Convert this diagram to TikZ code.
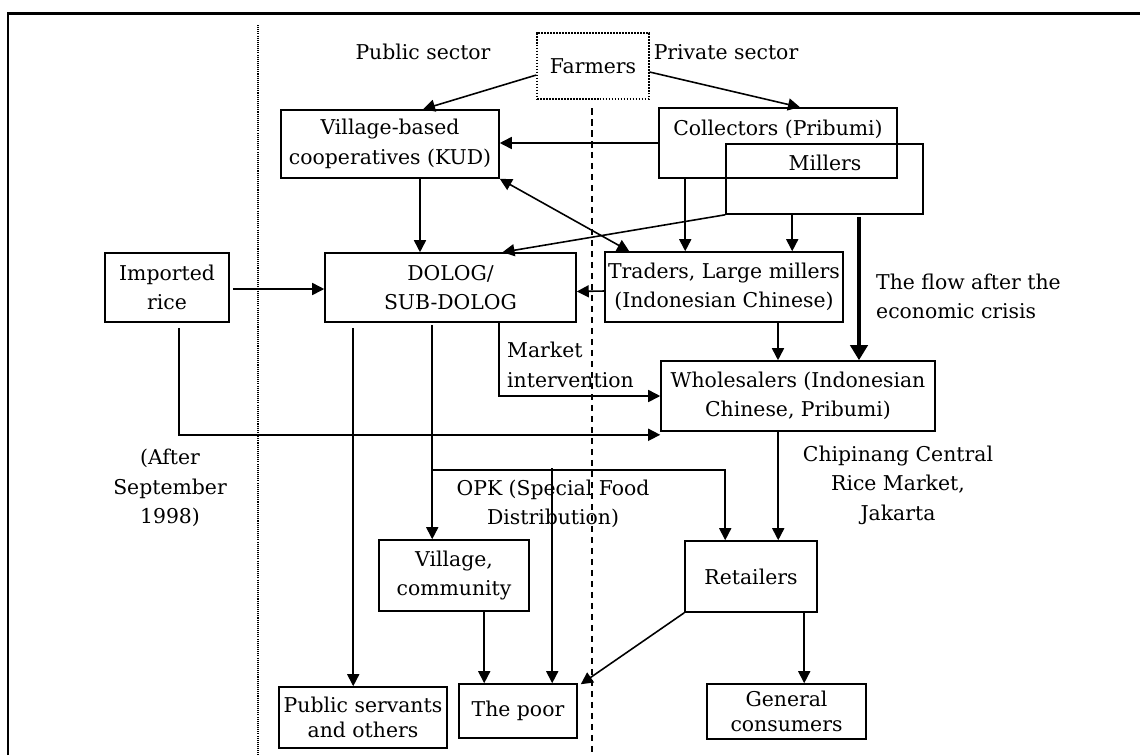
\documentclass[tikz,border=0pt]{standalone}
\usepackage{fontspec}
\setmainfont{DejaVu Serif}
\usetikzlibrary{arrows.meta,calc}

\tikzset{
  box/.style={draw,line width=0.9pt,align=center,inner sep=0pt},
  dotbox/.style={dash pattern=on 1pt off 0.7pt,line width=0.7pt},
  tight/.style={font=\fontsize{11.6}{13.8}\selectfont},
  arr/.style={line width=0.9pt,-{Triangle[length=0.24cm,width=0.24cm]}},
  dblarr/.style={line width=0.9pt,{Triangle[length=0.24cm,width=0.24cm]}-{Triangle[length=0.24cm,width=0.24cm]}},
  bigarr/.style={line width=2.8pt,-{Triangle[length=0.3cm,width=0.34cm]}},
  divline/.style={line width=0.6pt,dash pattern=on 0.6pt off 0.6pt},
  sectline/.style={line width=1.4pt,dash pattern=on 0.13cm off 0.09cm}
}

\begin{document}
\begin{tikzpicture}[x=0.02cm,y=-0.02cm,font=\fontsize{11.6}{16.8}\selectfont]
\useasboundingbox (0,0) rectangle (1140,755);
% frame and the two dividing lines
\draw[line width=1.7pt] (8,755) -- (8,13) -- (1140,13);
\draw[divline] (258,25) -- (258,755);
\draw[sectline] (592,108) -- (592,755);

\node (pubsec) at (423,52) {Public sector};
\node (privsec) at (726,52) {Private sector};

% boxes
\node[box,dotbox,minimum width=2.24cm,minimum height=1.32cm] (farm) at (593,66) {Farmers};
\node[box,minimum width=4.36cm,minimum height=1.36cm] (kud) at (390,144) {Village-based\\cooperatives (KUD)};
\node[box,minimum width=4.76cm,minimum height=1.4cm] (coll) at (778,143) {};
\node (colltxt) at (778,129) {Collectors (Pribumi)};
\node[box,minimum width=3.94cm,minimum height=1.4cm] (mill) at (824.5,179) {};
\node (milltxt) at (825,163) {Millers};
\node[box,minimum width=2.48cm,minimum height=1.38cm] (imp) at (167,287.5) {Imported\\rice};
\node[box,minimum width=5.02cm,minimum height=1.38cm] (dolog) at (450.5,287.5) {DOLOG/\\SUB-DOLOG};
\node[box,minimum width=4.76cm,minimum height=1.4cm] (trad) at (724,287) {Traders, Large millers\\(Indonesian Chinese)};
\node[box,minimum width=5.48cm,minimum height=1.4cm] (whole) at (798,396) {Wholesalers (Indonesian\\Chinese, Pribumi)};
\node[box,minimum width=3cm,minimum height=1.42cm] (vill) at (454,575.5) {Village,\\community};
\node[box,minimum width=2.64cm,minimum height=1.42cm] (retail) at (751,576.5) {Retailers};
\node[box,tight,minimum width=3.36cm,minimum height=1.22cm] (pub) at (363,717.5) {Public servants\\and others};
\node[box,minimum width=2.36cm,minimum height=1.08cm] (poor) at (518,711) {The poor};
\node[box,tight,minimum width=3.18cm,minimum height=1.1cm] (gen) at (786.5,711.5) {General\\consumers};

% labels
\node[anchor=west,align=left] (flow) at (870,296.5) {The flow after the\\economic crisis};
\node[anchor=west,align=left] (mkt) at (501,365) {Market\\intervention};
\node[align=center] (cpm) at (898,485) {Chipinang Central\\Rice Market,\\Jakarta};
\node[align=center] (after) at (170,488) {(After\\September\\1998)};
\node[align=center] (opk) at (553,504) {OPK (Special Food\\Distribution)};

% flows
\draw[arr] ($(farm.west)+(0,9)$) -- ($(kud.north)+(33,0)$);
\draw[arr] ($(farm.east)+(0,6)$) -- ($(coll.north)+(22,0)$);
\draw[arr] (coll.west) -- (coll.west -| kud.east);
\draw[arr] ($(kud.south)+(30,0)$) coordinate (k1) -- (k1 |- dolog.north);
\draw[dblarr] (kud.south east) -- ($(trad.north west)+(25,0)$);
\draw[arr] (mill.south west) -- ($(dolog.north)+(52,0)$);
\draw[arr] ($(coll.south west)+(27,0)$) coordinate (c1) -- (c1 |- trad.north);
\draw[arr] ($(mill.south west)+(67,0)$) coordinate (m1) -- (m1 |- trad.north);
\draw[bigarr] ($(mill.south)+(34.5,2)$) coordinate (m2) -- (m2 |- whole.north);
\draw[arr] ($(trad.west)+(0,4)$) -- ($(dolog.east)+(0,4)$);
\draw[arr] ($(imp.east)+(3,1.5)$) -- ($(dolog.west)+(0,1.5)$);
\draw[arr] ($(trad.south)+(54,0)$) coordinate (t1) -- (t1 |- whole.north);
\draw[arr] ($(dolog.south)+(48.5,0)$) |- (whole.west);
\draw[arr] ($(imp.south)+(12,5)$) |- ($(whole.south west)+(0,3)$);
\draw[arr] ($(dolog.south west)+(29,5)$) coordinate (d1) -- (d1 |- pub.north);
\draw[arr] ($(dolog.south west)+(108,2)$) coordinate (d2) -- (d2 |- vill.north);
\draw[arr] ($(dolog.south west)+(108,147)$) -| ($(retail.north west)+(41,0)$);
\draw[arr] ($(poor.north west)+(94,-215)$) -- ($(poor.north west)+(94,0)$);
\draw[arr] ($(vill.south west)+(106,0)$) coordinate (v1) -- (v1 |- poor.north);
\draw[arr] (retail.south west) -- ($(poor.north east)+(3,1)$);
\draw[arr] ($(whole.south west)+(118,0)$) coordinate (w1) -- (w1 |- retail.north);
\draw[arr] ($(retail.south west)+(120,0)$) coordinate (r1) -- (r1 |- gen.north);
\end{tikzpicture}
\end{document}
